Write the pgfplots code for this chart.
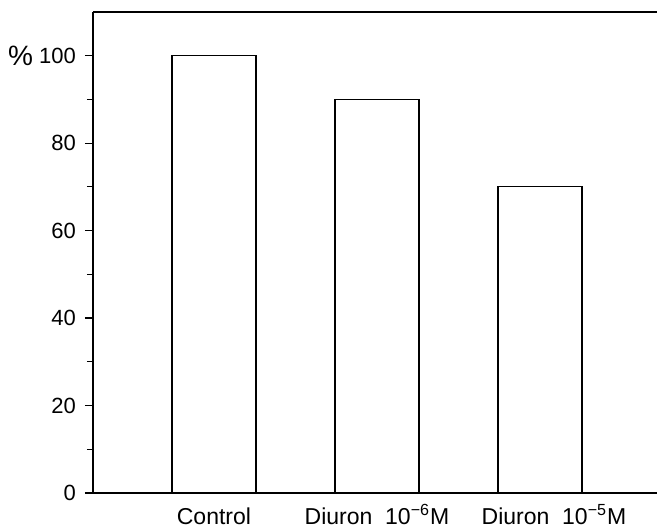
\documentclass[border=0pt]{standalone}
\usepackage{fontspec}
\setmainfont{Liberation Sans}
\usepackage{pgfplots}
\pgfplotsset{compat=1.18}
\begin{document}
\begin{tikzpicture}
\begin{axis}[
  scale only axis,
  width=282pt, height=240.5pt,
  xmin=-0.742, xmax=2.718,
  ymin=0, ymax=110,
  axis x line*=box,
  axis y line*=left,
  axis line style={line width=0.8pt},
  xtick={0,1,2},
  xticklabels={Control, Diuron\ \ 10\textsuperscript{\char"2212 6}M, \hspace*{14pt}Diuron\ \ 10\textsuperscript{\char"2212 5}M},
  major x tick style={draw=none},
  xticklabel style={font=\fontsize{11.5}{13}\selectfont, text height=8.5pt, text depth=0pt, yshift=0.5pt},
  ytick={0,20,40,60,80,100},
  minor y tick num=1,
  tick align=outside,
  ytick pos=left,
  major tick length=4pt,
  minor tick length=3pt,
  every tick/.style={black, line width=0.6pt},
  yticklabel style={font=\fontsize{11}{13}\selectfont, xshift=-1pt},
  /pgf/number format/assume math mode=true,
  ybar, bar width=0.515,
  clip=false,
]
\addplot[draw=black, fill=white, line width=0.6pt] coordinates {(0,100) (1,90) (2,70)};
\node[anchor=east, font=\fontsize{14}{16}\selectfont] at ([xshift=-26.5pt]axis cs:-0.742,100) {\%};
\end{axis}
\pgfresetboundingbox
\path[use as bounding box] ([xshift=-46.5pt,yshift=-17pt]current axis.south west) rectangle ([yshift=6pt]current axis.north east);
\end{tikzpicture}
\end{document}
